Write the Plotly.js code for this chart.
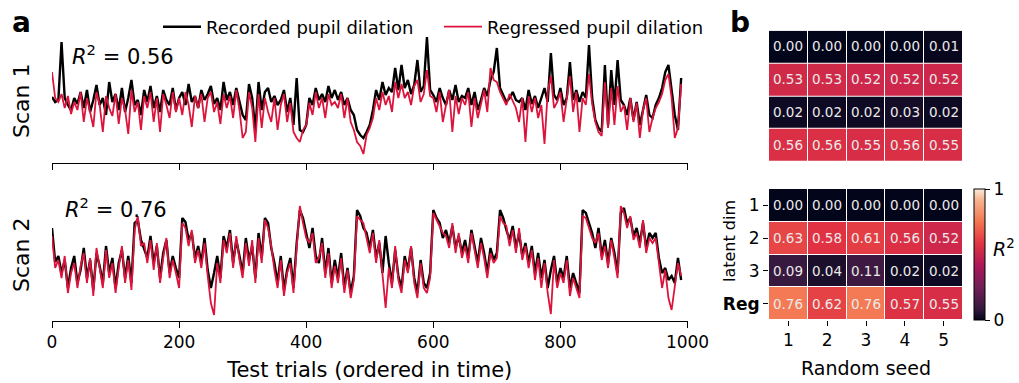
<!DOCTYPE html>
<html>
<head>
<meta charset="utf-8">
<script src="https://cdn.plot.ly/plotly-3.0.1.min.js"></script>
<style>html,body{margin:0;padding:0;background:#fff;}#chart{width:1019px;height:383px;}</style>
</head>
<body>
<div id="chart"></div>
<script>
// ---- Data (arbitrary pupil units, one sample every 5 trials) ----
const trialStep = 5;
const rec1 = [
 63,58,60,118,62,55,50,62,56,68,
 52,70,48,60,75,55,62,45,78,58,
 66,50,72,48,62,80,55,60,45,70,
 58,74,52,64,48,70,60,55,72,50,
 62,68,55,76,58,64,52,70,60,66,
 74,56,62,50,78,60,68,55,72,58,
 45,40,76,62,30,78,50,68,72,58,
 64,55,60,70,48,62,35,82,30,28,
 35,62,55,72,60,66,58,74,62,70,
 60,68,55,62,50,45,30,25,22,28,
 35,50,70,60,78,65,72,68,92,70,
 95,72,80,66,75,100,68,74,123,70,
 65,58,72,62,55,70,60,75,58,64,
 62,72,55,68,50,60,72,64,80,88,
 112,72,65,58,62,68,60,58,62,50,
 70,56,64,52,62,72,58,107,65,60,
 72,55,62,98,60,70,58,68,62,115,
 62,40,32,28,95,35,90,55,100,60,
 55,45,62,40,58,35,50,65,45,42,
 55,62,72,88,95,70,45,30,82
];
const reg1 = [
 88,62,58,66,52,64,46,58,50,68,
 38,62,48,33,68,55,28,64,52,44,
 66,36,62,50,26,70,48,58,30,64,
 52,68,38,62,28,66,55,42,68,48,
 62,45,68,55,33,64,52,66,38,62,
 68,48,58,36,66,52,64,42,70,50,
 22,28,68,52,18,66,32,62,48,38,
 62,30,55,66,38,57,28,22,18,30,
 35,57,45,68,52,62,42,66,55,58,
 52,66,42,62,38,30,18,14,6,25,
 32,42,62,50,68,55,64,48,78,62,
 76,62,68,55,74,80,58,66,90,64,
 62,48,68,38,55,70,28,64,46,62,
 55,68,33,62,42,57,70,48,92,80,
 78,68,62,55,66,58,52,38,62,18,
 64,48,62,42,55,16,68,84,52,58,
 68,38,62,84,48,68,28,62,55,86,
 56,38,28,24,78,32,72,35,74,48,
 55,30,62,38,57,22,50,62,28,42,
 52,58,66,80,86,62,22,32,76
];
const rec2 = [
 90,56,62,45,58,30,50,62,35,48,
 70,40,58,28,65,52,35,72,45,60,
 30,55,68,40,62,35,95,98,78,70,
 60,82,55,72,40,65,78,45,62,50,
 40,100,96,78,85,60,72,55,80,48,
 30,45,62,40,82,70,88,55,78,62,
 45,80,58,72,40,85,60,100,95,70,
 55,35,62,28,48,60,30,75,108,100,
 85,70,90,62,55,80,45,70,35,58,
 40,65,30,50,25,42,108,102,90,85,
 70,88,60,75,45,82,55,35,68,42,
 30,62,48,70,40,25,58,35,30,45,
 108,100,95,80,88,75,92,70,82,65,
 78,60,88,72,55,80,65,45,70,58,
 65,108,100,88,78,92,70,85,62,75,
 55,72,45,65,40,58,30,48,62,35,
 50,40,62,30,45,35,25,108,105,95,
 85,70,90,62,78,55,80,65,45,105,
 110,95,100,82,90,75,95,70,85,80,
 85,60,45,50,38,42,35,60,38
];
const reg2 = [
 82,50,58,40,62,25,45,55,30,52,
 65,35,60,22,70,48,30,68,40,55,
 25,50,72,35,58,28,88,102,72,75,
 55,78,48,75,35,60,80,40,58,45,
 30,95,90,72,88,55,68,50,75,42,
 15,3,55,35,78,65,85,50,82,58,
 40,75,52,78,35,80,55,98,90,72,
 48,30,58,22,45,55,25,70,112,95,
 80,75,85,55,60,75,40,65,30,52,
 35,60,25,48,20,38,102,98,95,80,
 65,85,55,78,40,10,50,30,72,38,
 25,58,45,72,35,20,55,30,25,40,
 105,98,92,85,82,70,95,65,85,60,
 72,55,85,68,50,75,60,40,65,55,
 60,102,95,92,72,88,65,90,58,72,
 50,68,38,60,30,55,25,4,58,30,
 45,35,58,22,40,30,20,102,100,90,
 80,75,85,58,72,50,78,60,40,112,
 105,90,102,78,85,70,98,65,80,75,
 80,55,30,48,20,8,30,55,42
];
const trials = rec1.map((_, i) => i * trialStep);
const xTicks = [0, 200, 400, 600, 800, 1000];

const seeds = ['1', '2', '3', '4', '5'];
const rowLabels = ['1', '2', '3', '<b>Reg</b>'];
const r2Scan1 = [
 [0.00, 0.00, 0.00, 0.00, 0.01],
 [0.53, 0.53, 0.52, 0.52, 0.52],
 [0.02, 0.02, 0.02, 0.03, 0.02],
 [0.56, 0.56, 0.55, 0.56, 0.55]
];
const r2Scan2 = [
 [0.00, 0.00, 0.00, 0.00, 0.00],
 [0.63, 0.58, 0.61, 0.56, 0.52],
 [0.09, 0.04, 0.11, 0.02, 0.02],
 [0.76, 0.62, 0.76, 0.57, 0.55]
];
const scanR2 = ['0.56', '0.76'];

// ---- Styling ----
const W = 1019, H = 383;
const px = v => v / W;
const py = v => 1 - v / H;
const FONT = 'DejaVu Sans, Liberation Sans, sans-serif';
const BLACK = '#000000';
const RED = '#DC143C';
const rocket = [
 [0.0, '#03051A'], [0.0833, '#35193E'], [0.25, '#701F57'], [0.4167, '#AD1759'],
 [0.5833, '#E13342'], [0.75, '#F37651'], [0.9167, '#F6B48F'], [1.0, '#FAEBDD']
];

const traces = [
 {x: trials, y: rec1, xaxis: 'x', yaxis: 'y', type: 'scatter', mode: 'lines',
  line: {color: BLACK, width: 2.4}, name: 'Recorded pupil dilation', showlegend: true},
 {x: trials, y: reg1, xaxis: 'x', yaxis: 'y', type: 'scatter', mode: 'lines',
  line: {color: RED, width: 1.8}, name: 'Regressed pupil dilation', showlegend: true},
 {x: trials, y: rec2, xaxis: 'x2', yaxis: 'y2', type: 'scatter', mode: 'lines',
  line: {color: BLACK, width: 2.4}, showlegend: false},
 {x: trials, y: reg2, xaxis: 'x2', yaxis: 'y2', type: 'scatter', mode: 'lines',
  line: {color: RED, width: 1.8}, showlegend: false},
 {type: 'heatmap', z: r2Scan1, x: seeds, y: [0, 1, 2, 3], xaxis: 'x3', yaxis: 'y3',
  colorscale: rocket, zmin: 0, zmax: 1, xgap: 1, ygap: 1, showscale: false,
  texttemplate: '%{z:.2f}', textfont: {family: FONT, size: 13.5, color: '#EAEAEA'},
  hoverinfo: 'skip'},
 {type: 'heatmap', z: r2Scan2, x: seeds, y: [0, 1, 2, 3], xaxis: 'x4', yaxis: 'y4',
  colorscale: rocket, zmin: 0, zmax: 1, xgap: 1, ygap: 1,
  texttemplate: '%{z:.2f}', textfont: {family: FONT, size: 13.5, color: '#EAEAEA'},
  hoverinfo: 'skip',
  colorbar: {x: px(974), xanchor: 'left', y: py(254.5), yanchor: 'middle',
   thickness: 11, thicknessmode: 'pixels', len: 131, lenmode: 'pixels',
   outlinewidth: 1, outlinecolor: '#000', tickvals: [0, 1], ticktext: ['0', '1'],
   ticks: 'outside', ticklen: 5, tickwidth: 1, tickcolor: '#000',
   tickfont: {family: FONT, size: 17, color: '#000'}, xpad: 0, ypad: 0}}
];

const lineAxis = {showline: true, linecolor: '#000', linewidth: 1, ticks: 'outside', ticklen: 6,
 tickwidth: 1, tickcolor: '#000', tickvals: xTicks, range: [0, 1000], showgrid: false, zeroline: false};

function ann(text, x, y, size, extra) {
 return Object.assign({text: text, x: px(x), y: py(y), xref: 'paper', yref: 'paper',
  xanchor: 'center', yanchor: 'middle', showarrow: false, font: {family: FONT, size: size, color: '#000'}}, extra || {});
}

const layout = {
 width: W, height: H, margin: {l: 0, r: 0, t: 0, b: 0},
 paper_bgcolor: '#fff', plot_bgcolor: '#fff',
 font: {family: FONT, color: '#000'},
 showlegend: true,
 legend: {orientation: 'h', x: px(158), xanchor: 'left', y: py(27), yanchor: 'middle',
  font: {family: FONT, size: 18}, entrywidth: 228, entrywidthmode: 'pixels',
  bgcolor: 'rgba(0,0,0,0)', itemwidth: 38},
 xaxis: Object.assign({}, lineAxis, {domain: [px(52), px(687.5)], anchor: 'y', showticklabels: false}),
 yaxis: {domain: [py(163), py(35)], range: [-3, 125], visible: false, anchor: 'x'},
 xaxis2: Object.assign({}, lineAxis, {domain: [px(52), px(687.5)], anchor: 'y2', showticklabels: true,
  tickfont: {family: FONT, size: 17}, title: {text: 'Test trials (ordered in time)', font: {family: FONT, size: 21}, standoff: 10}}),
 yaxis2: {domain: [py(321), py(195)], range: [-3, 123], visible: false, anchor: 'x2'},
 xaxis3: {domain: [px(769), px(963)], anchor: 'y3', showticklabels: false, ticks: '', showgrid: false, zeroline: false, showline: false},
 yaxis3: {domain: [py(161.7), py(30.7)], anchor: 'x3', range: [3.5, -0.5], showticklabels: false, ticks: '', showgrid: false, zeroline: false, showline: false},
 xaxis4: {domain: [px(769), px(963)], anchor: 'y4', type: 'category', tickmode: 'array', tickvals: seeds, ticktext: seeds,
  ticks: 'outside', ticklen: 5, tickcolor: '#000', showgrid: false, zeroline: false, showline: false,
  tickfont: {family: FONT, size: 17}, title: {text: 'Random seed', font: {family: FONT, size: 19}, standoff: 12}},
 yaxis4: {domain: [py(320), py(189)], anchor: 'x4', range: [3.5, -0.5], tickvals: [0, 1, 2, 3], ticktext: rowLabels,
  ticks: 'outside', ticklen: 5, tickcolor: '#000', showgrid: false, zeroline: false, showline: false,
  tickfont: {family: FONT, size: 17}},
 annotations: [
  ann('<b>a</b>', 21, 23, 28),
  ann('<b>b</b>', 740, 23, 28),
  ann('<i>R</i><sup>2</sup> = ' + scanR2[0], 70, 55, 21, {xanchor: 'left'}),
  ann('<i>R</i><sup>2</sup> = ' + scanR2[1], 63, 208, 21, {xanchor: 'left'}),
  ann('Scan 1', 21, 101, 22, {textangle: -90}),
  ann('Scan 2', 21, 255, 22, {textangle: -90}),
  ann('latent dim', 729, 241, 16, {textangle: -90}),
  ann('<i>R</i><sup>2</sup>', 1004, 248, 19)
 ]
};

Plotly.newPlot('chart', traces, layout, {displayModeBar: false, staticPlot: true});
</script>
</body>
</html>
